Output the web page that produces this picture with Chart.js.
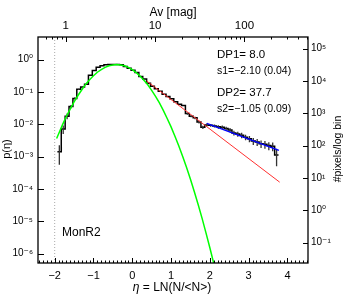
<!DOCTYPE html>
<html>
<head>
<meta charset="utf-8">
<script src="https://cdn.jsdelivr.net/npm/chart.js@4.4.1/dist/chart.umd.min.js"></script>
<style>
html, body { margin: 0; padding: 0; background: #fff; }
#wrap { width: 351px; height: 300px; position: relative; }
</style>
</head>
<body>
<div id="wrap"><canvas id="pdfChart"></canvas></div>
<script>
// PDF histogram, eta = ln(N/<N>), bins of 0.1
const binWidth = 0.1;
const binCentres = [-1.88, -1.78, -1.68, -1.58, -1.48, -1.38, -1.28, -1.18, -1.08, -0.98,
    -0.88, -0.78, -0.68, -0.58, -0.48, -0.38, -0.28, -0.18, -0.08, 0.02,
    0.12, 0.22, 0.32, 0.42, 0.52, 0.62, 0.72, 0.82, 0.92, 1.02,
    1.12, 1.22, 1.32, 1.42, 1.52, 1.62, 1.72, 1.82, 1.92, 2.02,
    2.12, 2.22, 2.32, 2.42, 2.52, 2.62, 2.72, 2.82, 2.92, 3.02,
    3.12, 3.22, 3.32, 3.42, 3.52, 3.62, 3.72];
const histValues = [1.41e-3, 7.08e-3, 1.78e-2, 3.55e-2, 6.31e-2, 0.120, 0.141, 0.174, 0.331, 0.457,
    0.575, 0.646, 0.692, 0.700, 0.708, 0.708, 0.692, 0.617, 0.537, 0.468,
    0.398, 0.302, 0.251, 0.186, 0.151, 0.126, 0.105, 0.0851, 0.0724, 0.0617,
    0.0501, 0.0417, 0.0380, 0.0214, 0.0178, 0.0158, 0.0117, 8.1e-3, 9.55e-3, 9.33e-3,
    8.91e-3, 8.32e-3, 8.13e-3, 7.41e-3, 6.61e-3, 5.37e-3, 5.01e-3, 4.57e-3, 3.98e-3, 3.55e-3,
    3.02e-3, 2.82e-3, 2.51e-3, 2.40e-3, 2.19e-3, 2.09e-3, 1.12e-3];
// relative error of each bin (0 = too small to see)
const histRelErr = [0.6, 0.3, 0.2, 0.12, 0.08, 0.05, 0.04, 0, 0, 0,
    0, 0, 0, 0, 0, 0, 0, 0, 0, 0,
    0, 0, 0, 0, 0, 0, 0, 0, 0, 0,
    0, 0, 0, 0.08, 0.08, 0.09, 0.1, 0.12, 0.1, 0.1,
    0.11, 0.12, 0.12, 0.13, 0.15, 0.17, 0.18, 0.19, 0.2, 0.22,
    0.24, 0.25, 0.26, 0.27, 0.28, 0.3, 0.55];

// lognormal fit (green)
const gaussEta = [-1.95, -1.9, -1.8, -1.7, -1.6, -1.5, -1.4, -1.3, -1.2, -1.1,
    -1.0, -0.9, -0.8, -0.7, -0.6, -0.5, -0.4, -0.3, -0.2, -0.1,
    0.0, 0.1, 0.2, 0.3, 0.4, 0.5, 0.6, 0.7, 0.8, 0.9,
    1.0, 1.1, 1.2, 1.3, 1.4, 1.5, 1.6, 1.7, 1.8, 1.9,
    2.0, 2.1, 2.2];
const gaussP = [3.63e-3, 5.01e-3, 9.55e-3, 1.74e-2, 2.95e-2, 4.90e-2, 7.76e-2, 0.117, 0.174, 0.240,
    0.316, 0.407, 0.490, 0.575, 0.646, 0.684, 0.700, 0.684, 0.646, 0.575,
    0.490, 0.398, 0.309, 0.229, 0.166, 0.112, 0.0724, 0.0457, 0.0269, 0.0151,
    8.32e-3, 4.27e-3, 2.14e-3, 1.0e-3, 4.57e-4, 2.0e-4, 8.13e-5, 3.24e-5, 1.23e-5, 4.37e-6,
    1.51e-6, 5.0e-7, 1.58e-7];

// power law fits (red s1, blue s2)
const fit1Eta = [0.37, 3.80];
const fit1P = [0.219, 1.62e-4];
const fit2Eta = [1.92, 3.78];
const fit2P = [0.0107, 1.55e-3];

const etaCut = -2;
const etaTicks = [-2, -1, 0, 1, 2, 3, 4];
const avTicks = [1, 10, 100];
const avMinorTicks = [0.6, 0.7, 0.8, 0.9, 2, 3, 4, 5, 6, 7, 8, 9, 20, 30, 40, 50, 60, 70, 80, 90, 200, 300, 400, 500];
const pTicks = [1e-6, 1e-5, 1e-4, 1e-3, 1e-2, 1e-1, 1];
const countTicks = [1e-1, 1, 1e1, 1e2, 1e3, 1e4, 1e5];

const fitLabels = ['DP1= 8.0', 's1=\u22122.10 (0.04)', 'DP2= 37.7', 's2=\u22121.05 (0.09)'];
const cloudName = 'MonR2';

// axis ranges
const etaMin = -2.43, etaMax = 4.53;
const pMin = 5.12e-7, pMax = 5.0;
const avMean = 5.55;           // Av at eta = 0
const countScale = 45700;      // pixels per log bin for p = 1

const histData = binCentres.map((c, i) => ({ x: c - binWidth / 2, y: histValues[i] }));
histData.push({ x: binCentres[binCentres.length - 1] + binWidth / 2, y: histValues[histValues.length - 1] });

const errData = [];
binCentres.forEach((c, i) => {
    if (!histRelErr[i]) return;
    errData.push({ x: c, y: histValues[i] * (1 - histRelErr[i]) });
    errData.push({ x: c, y: histValues[i] * (1 + histRelErr[i]) });
    errData.push({ x: c, y: null });
});

const toPoints = (xs, ys) => xs.map((x, i) => ({ x: x, y: ys[i] }));

const supMap = { '-': '\u207B', '0': '\u2070', '1': '\u00B9', '2': '\u00B2', '3': '\u00B3', '4': '\u2074', '5': '\u2075', '6': '\u2076' };
function powerLabel(v) {
    const e = String(Math.round(Math.log10(v)));
    return '10' + e.split('').map(ch => supMap[ch]).join('');
}

const font = "'Liberation Sans', 'DejaVu Sans', sans-serif";

const frameTicks = {
    id: 'frameTicks',
    afterDraw(chart) {
        const { ctx, chartArea: a } = chart;
        const s = chart.scales;
        ctx.save();
        ctx.strokeStyle = '#000';
        ctx.lineWidth = 1;
        ctx.beginPath();
        const vTick = (px, y0, len) => { px = Math.round(px) + 0.5; ctx.moveTo(px, y0); ctx.lineTo(px, y0 + len); };
        const hTick = (py, x0, len) => { py = Math.round(py) + 0.5; ctx.moveTo(x0, py); ctx.lineTo(x0 + len, py); };
        for (let k = Math.ceil(s.x.min * 10); k <= Math.floor(s.x.max * 10); k++) {
            vTick(s.x.getPixelForValue(k / 10), a.bottom, k % 10 === 0 ? -5 : -2.5);
        }
        avTicks.forEach(v => vTick(s.xTop.getPixelForValue(v), a.top, 5));
        avMinorTicks.forEach(v => vTick(s.xTop.getPixelForValue(v), a.top, 2.5));
        pTicks.forEach(v => hTick(s.y.getPixelForValue(v), a.left, 6));
        countTicks.forEach(v => hTick(s.yR.getPixelForValue(v), a.right, -5));
        ctx.stroke();
        ctx.lineWidth = 1.3;
        ctx.strokeRect(a.left, a.top, a.right - a.left, a.bottom - a.top);

        ctx.fillStyle = '#000';
        ctx.textBaseline = 'middle';
        // axis titles
        ctx.textAlign = 'center';
        ctx.font = '12px ' + font;
        ctx.fillText('Av [mag]', 173, 13);
        const rest = ' = LN(N/<N>)';
        const wRest = ctx.measureText(rest).width;
        ctx.font = 'italic 12px ' + font;
        const wEta = ctx.measureText('\u03B7').width;
        const x0 = 172 - (wRest + wEta) / 2;
        ctx.textAlign = 'left';
        ctx.fillText('\u03B7', x0, 288);
        ctx.font = '12px ' + font;
        ctx.fillText(rest, x0 + wEta, 288);

        ctx.save();
        ctx.translate(7, 149);
        ctx.rotate(-Math.PI / 2);
        ctx.textAlign = 'center';
        ctx.font = '11px ' + font;
        ctx.fillText('p(\u03B7)', 0, 0);
        ctx.restore();

        ctx.save();
        ctx.translate(338, 149);
        ctx.rotate(-Math.PI / 2);
        ctx.textAlign = 'center';
        ctx.font = '10.5px ' + font;
        ctx.fillText('#pixels/log bin', 0, 0);
        ctx.restore();

        // fit results
        ctx.textAlign = 'left';
        ctx.font = '11.5px ' + font;
        ctx.fillText(fitLabels[0], 217, 54.5);
        ctx.fillText(fitLabels[2], 217, 92.5);
        ctx.font = '10.5px ' + font;
        ctx.fillText(fitLabels[1], 217, 71);
        ctx.fillText(fitLabels[3], 217, 109);
        ctx.font = '12px ' + font;
        ctx.fillText(cloudName, 62, 233);
        ctx.restore();
    }
};

const fixSize = (w, h) => (scale) => {
    if (w !== null) scale.width = w;
    if (h !== null) scale.height = h;
};

new Chart(document.getElementById('pdfChart'), {
    type: 'line',
    data: {
        datasets: [
            {
                label: 's2',
                data: toPoints(fit2Eta, fit2P),
                borderColor: '#0000ff',
                borderWidth: 1.4,
                pointRadius: 0,
                order: 1
            },
            {
                label: 's1',
                data: toPoints(fit1Eta, fit1P),
                borderColor: '#ff3030',
                borderWidth: 1,
                pointRadius: 0,
                order: 2
            },
            {
                label: 'lognormal',
                data: toPoints(gaussEta, gaussP),
                borderColor: '#00ff00',
                borderWidth: 1.5,
                pointRadius: 0,
                order: 3
            },
            {
                label: 'errors',
                data: errData,
                borderColor: '#333333',
                borderWidth: 1.3,
                pointRadius: 0,
                spanGaps: false,
                order: 4
            },
            {
                label: 'histogram',
                data: histData,
                borderColor: '#000000',
                borderWidth: 1.5,
                pointRadius: 0,
                stepped: true,
                order: 5
            },
            {
                label: 'cut',
                data: [{ x: etaCut, y: pMin }, { x: etaCut, y: pMax }],
                borderColor: '#aaaaaa',
                borderWidth: 1,
                borderDash: [1, 2],
                pointRadius: 0,
                order: 6
            }
        ]
    },
    options: {
        responsive: true,
        maintainAspectRatio: false,
        devicePixelRatio: 1,
        animation: false,
        layout: { padding: 0 },
        plugins: { legend: { display: false }, tooltip: { enabled: false } },
        scales: {
            x: {
                type: 'linear',
                position: 'bottom',
                min: etaMin,
                max: etaMax,
                afterFit: fixSize(null, 37),
                afterBuildTicks: (scale) => { scale.ticks = etaTicks.map(v => ({ value: v })); },
                grid: { display: false, drawTicks: false },
                border: { display: false },
                ticks: {
                    autoSkip: false,
                    maxRotation: 0,
                    padding: 6,
                    color: '#000',
                    font: { family: font, size: 11 },
                    callback: v => String(v).replace('-', '\u2212')
                }
            },
            xTop: {
                type: 'logarithmic',
                position: 'top',
                min: avMean * Math.exp(etaMin),
                max: avMean * Math.exp(etaMax),
                afterFit: fixSize(null, 37),
                afterBuildTicks: (scale) => { scale.ticks = avTicks.map(v => ({ value: v })); },
                grid: { display: false, drawTicks: false },
                border: { display: false },
                ticks: {
                    autoSkip: false,
                    maxRotation: 0,
                    padding: 4,
                    color: '#000',
                    font: { family: font, size: 11.5 },
                    callback: v => String(v)
                }
            },
            y: {
                type: 'logarithmic',
                position: 'left',
                min: pMin,
                max: pMax,
                afterFit: fixSize(38, null),
                afterBuildTicks: (scale) => { scale.ticks = pTicks.map(v => ({ value: v })); },
                grid: { display: false, drawTicks: false },
                border: { display: false },
                ticks: {
                    autoSkip: false,
                    padding: 5,
                    color: '#000',
                    font: { family: font, size: 10 },
                    callback: v => powerLabel(v)
                }
            },
            yR: {
                type: 'logarithmic',
                position: 'right',
                min: pMin * countScale,
                max: pMax * countScale,
                afterFit: fixSize(43, null),
                afterBuildTicks: (scale) => { scale.ticks = countTicks.map(v => ({ value: v })); },
                grid: { display: false, drawTicks: false },
                border: { display: false },
                ticks: {
                    autoSkip: false,
                    padding: 3,
                    color: '#000',
                    font: { family: font, size: 10 },
                    callback: v => powerLabel(v)
                }
            }
        }
    },
    plugins: [frameTicks]
});
</script>
</body>
</html>
